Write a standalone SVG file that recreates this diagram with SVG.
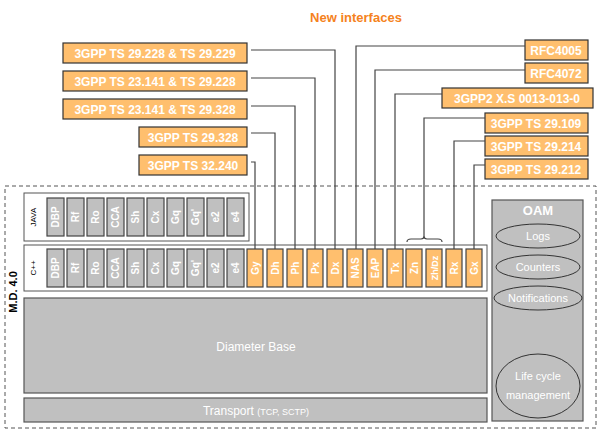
<svg xmlns="http://www.w3.org/2000/svg" width="600" height="438" viewBox="0 0 600 438">
<style>
.lbl{fill:#ffbf6e;stroke:#333;stroke-width:1.2}
.lt{font:bold 12px "Liberation Sans",Arial,sans-serif;fill:#fff;text-anchor:middle}
.g{fill:#c0c0c0;stroke:#444;stroke-width:1.2}
.o{fill:#ffbf6e;stroke:#444;stroke-width:1.2}
.ct{font:bold 10px "Liberation Sans",Arial,sans-serif;fill:#fff;text-anchor:middle}
.box{fill:#fff;stroke:#555;stroke-width:1}
.big{fill:#c0c0c0;stroke:#555;stroke-width:1.2}
.wt{font:12px "Liberation Sans",Arial,sans-serif;fill:#fff;text-anchor:middle}
.con{fill:none;stroke:#444;stroke-width:1.2}
</style>
<text x="356" y="22" style="font:bold 13px 'Liberation Sans',Arial,sans-serif;fill:#f58220" text-anchor="middle">New interfaces</text>
<rect x="5" y="186" width="591" height="242" fill="none" stroke="#555" stroke-dasharray="4,3"/>
<text transform="translate(17,292) rotate(-90)" text-anchor="middle" style="font:bold 11px 'Liberation Sans',Arial,sans-serif">M.D. 4.0</text>
<g id="java"><rect class="box" x="24" y="193" width="225" height="48"/>
<text transform="translate(36,217) rotate(-90)" text-anchor="middle" style="font:8px 'Liberation Sans',Arial,sans-serif">JAVA</text>
<g class="ct">
<rect class="g" x="47" y="198" width="17" height="38"/><text transform="translate(59,217) rotate(-90)">DBP</text>
<rect class="g" x="67" y="198" width="17" height="38"/><text transform="translate(79,217) rotate(-90)">Rf</text>
<rect class="g" x="87" y="198" width="17" height="38"/><text transform="translate(99,217) rotate(-90)">Ro</text>
<rect class="g" x="107" y="198" width="17" height="38"/><text transform="translate(119,217) rotate(-90)">CCA</text>
<rect class="g" x="127" y="198" width="17" height="38"/><text transform="translate(139,217) rotate(-90)">Sh</text>
<rect class="g" x="147" y="198" width="17" height="38"/><text transform="translate(159,217) rotate(-90)">Cx</text>
<rect class="g" x="167" y="198" width="17" height="38"/><text transform="translate(179,217) rotate(-90)">Gq</text>
<rect class="g" x="187" y="198" width="17" height="38"/><text transform="translate(199,217) rotate(-90)">Gq'</text>
<rect class="g" x="207" y="198" width="17" height="38"/><text transform="translate(219,217) rotate(-90)">e2</text>
<rect class="g" x="227" y="198" width="17" height="38"/><text transform="translate(239,217) rotate(-90)">e4</text>
</g></g>
<g id="cpp"><rect class="box" x="24" y="245" width="463" height="46"/>
<text transform="translate(36,268) rotate(-90)" text-anchor="middle" style="font:8px 'Liberation Sans',Arial,sans-serif">C++</text>
<g class="ct">
<rect class="g" x="47" y="249" width="17" height="38"/><text transform="translate(59,268) rotate(-90)">DBP</text>
<rect class="g" x="67" y="249" width="17" height="38"/><text transform="translate(79,268) rotate(-90)">Rf</text>
<rect class="g" x="87" y="249" width="17" height="38"/><text transform="translate(99,268) rotate(-90)">Ro</text>
<rect class="g" x="107" y="249" width="17" height="38"/><text transform="translate(119,268) rotate(-90)">CCA</text>
<rect class="g" x="127" y="249" width="17" height="38"/><text transform="translate(139,268) rotate(-90)">Sh</text>
<rect class="g" x="147" y="249" width="17" height="38"/><text transform="translate(159,268) rotate(-90)">Cx</text>
<rect class="g" x="167" y="249" width="17" height="38"/><text transform="translate(179,268) rotate(-90)">Gq</text>
<rect class="g" x="187" y="249" width="17" height="38"/><text transform="translate(199,268) rotate(-90)">Gq'</text>
<rect class="g" x="207" y="249" width="17" height="38"/><text transform="translate(219,268) rotate(-90)">e2</text>
<rect class="g" x="227" y="249" width="17" height="38"/><text transform="translate(239,268) rotate(-90)">e4</text>
<rect class="o" x="247" y="249" width="16" height="38"/><text transform="translate(259,268) rotate(-90)">Gy</text>
<rect class="o" x="267" y="249" width="16" height="38"/><text transform="translate(279,268) rotate(-90)">Dh</text>
<rect class="o" x="287" y="249" width="16" height="38"/><text transform="translate(299,268) rotate(-90)">Ph</text>
<rect class="o" x="307" y="249" width="16" height="38"/><text transform="translate(319,268) rotate(-90)">Px</text>
<rect class="o" x="327" y="249" width="16" height="38"/><text transform="translate(339,268) rotate(-90)">Dx</text>
<rect class="o" x="347" y="249" width="16" height="38"/><text transform="translate(359,268) rotate(-90)">NAS</text>
<rect class="o" x="367" y="249" width="16" height="38"/><text transform="translate(379,268) rotate(-90)">EAP</text>
<rect class="o" x="387" y="249" width="16" height="38"/><text transform="translate(399,268) rotate(-90)">Tx</text>
<rect class="o" x="406" y="249" width="16" height="38"/><text transform="translate(418,268) rotate(-90)">Zn</text>
<rect class="o" x="426" y="249" width="16" height="38"/><text transform="translate(438,268) rotate(-90)" style="font-size:9px">Zh/Dz</text>
<rect class="o" x="446" y="249" width="16" height="38"/><text transform="translate(458,268) rotate(-90)">Rx</text>
<rect class="o" x="466" y="249" width="16" height="38"/><text transform="translate(478,268) rotate(-90)">Gx</text>
</g></g>
<g id="base"><rect class="big" x="24" y="298" width="463" height="95"/><text class="wt" x="256" y="351">Diameter Base</text></g>
<g id="transport"><rect class="big" x="24" y="398" width="463" height="24"/><text class="wt" x="256" y="415">Transport <tspan style="font-size:9px">(TCP, SCTP)</tspan></text></g>
<g id="oam"><rect class="big" x="492" y="200" width="91" height="221"/>
<text class="wt" x="538" y="215" style="font-weight:bold;font-size:13px">OAM</text>
<g style="fill:none;stroke:#333;stroke-width:1">
<ellipse cx="538" cy="236" rx="42" ry="12"/><ellipse cx="538" cy="267" rx="42" ry="12"/><ellipse cx="538" cy="298" rx="44" ry="12"/><ellipse cx="538" cy="386" rx="42" ry="32"/></g>
<g style="font:11px 'Liberation Sans',Arial,sans-serif;fill:#fff" text-anchor="middle">
<text x="538" y="240">Logs</text><text x="538" y="271">Counters</text><text x="538" y="302">Notifications</text><text x="538" y="380">Life cycle</text><text x="538" y="399">management</text></g></g>
<g id="labels">
<rect class="lbl" x="63" y="43" width="184" height="20"/><text class="lt" x="155" y="58">3GPP TS 29.228 &amp; TS 29.229</text>
<rect class="lbl" x="63" y="71" width="184" height="20"/><text class="lt" x="155" y="86">3GPP TS 23.141 &amp; TS 29.228</text>
<rect class="lbl" x="63" y="99" width="184" height="20"/><text class="lt" x="155" y="114">3GPP TS 23.141 &amp; TS 29.328</text>
<rect class="lbl" x="139" y="127" width="108" height="20"/><text class="lt" x="193" y="142">3GPP TS 29.328</text>
<rect class="lbl" x="139" y="155" width="108" height="20"/><text class="lt" x="193" y="170">3GPP TS 32.240</text>
<rect class="lbl" x="525" y="40" width="63" height="20"/><text class="lt" x="556" y="55">RFC4005</text>
<rect class="lbl" x="525" y="63" width="63" height="20"/><text class="lt" x="556" y="78">RFC4072</text>
<rect class="lbl" x="442" y="88" width="151" height="20"/><text class="lt" x="517" y="103">3GPP2 X.S 0013-013-0</text>
<rect class="lbl" x="485" y="113" width="103" height="20"/><text class="lt" x="536" y="128">3GPP TS 29.109</text>
<rect class="lbl" x="485" y="136" width="103" height="20"/><text class="lt" x="536" y="151">3GPP TS 29.214</text>
<rect class="lbl" x="485" y="159" width="103" height="20"/><text class="lt" x="536" y="174">3GPP TS 29.212</text>
</g>
<g id="connectors" class="con">
<polyline points="251,50 335,50 335,249"/>
<polyline points="251,78 315,78 315,249"/>
<polyline points="251,106 295,106 295,249"/>
<polyline points="251,133 275,133 275,249"/>
<polyline points="251,162 255,162 255,249"/>
<polyline points="525,46 356,46 356,249"/>
<polyline points="525,70 375,70 375,249"/>
<polyline points="442,94 395,94 395,249"/>
<polyline points="485,118 424,118 424,236"/>
<polyline points="485,141 454,141 454,249"/>
<polyline points="485,165 474,165 474,249"/>
<path d="M407,242 Q407,239 411,239 L421,239 Q424,239 424,236 Q424,239 427,239 L438,239 Q442,239 442,242"/>
</g>
</svg>
